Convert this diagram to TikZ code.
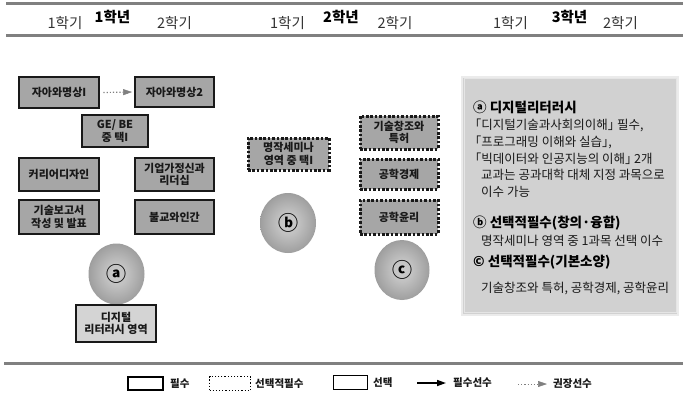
\documentclass[tikz,border=0pt]{standalone}
\usepackage{fontspec}
\setmainfont{Noto Sans CJK KR}
\newfontfamily\krhalt[RawFeature=+halt]{Noto Sans CJK KR}
\usetikzlibrary{arrows.meta,shapes.geometric}
\pgfdeclareradialshading{ball}{\pgfpoint{0bp}{0bp}}{color(0bp)=(black!20); color(9bp)=(black!24); color(24bp)=(black!37); color(33bp)=(black!49); color(50bp)=(black!54)}
\begin{document}
\begin{tikzpicture}[x=1bp,y=-1bp,
  hline/.style={draw=black!50, line width=3bp},
  semlabel/.style={text=black!80, font=\fontsize{14.5bp}{16bp}\selectfont, inner sep=0},
  yearlabel/.style={text=black, font=\fontsize{14.5bp}{16bp}\selectfont\bfseries, inner sep=0},
  basebox/.style={fill=black!35, align=center, inner sep=0, text=black!90,
    font=\fontsize{11bp}{12.5bp}\selectfont\bfseries},
  reqbox/.style={basebox, draw=black!90, line width=2.8bp},
  optbox/.style={basebox, draw=black!90, line width=3bp, dash pattern=on 2.6bp off 1.8bp},
  ball/.style={shading=ball, inner sep=0, font=\fontsize{20bp}{20bp}\selectfont\bfseries},
  paneltext/.style={anchor=west, inner sep=0, text=black!90, font=\fontsize{12.5bp}{14bp}\selectfont},
  bracktext/.style={paneltext, font=\krhalt\fontsize{12.5bp}{14bp}\selectfont},
  panelhead/.style={anchor=west, inner sep=0, text=black, font=\fontsize{13.5bp}{15bp}\selectfont\bfseries},
  legtext/.style={anchor=west, inner sep=0, text=black!90, font=\fontsize{10.5bp}{12bp}\selectfont\bfseries},
  recarrow/.style={draw=black!50, line width=1.2bp, dotted, -{Triangle[length=9bp,width=6bp,color=black!50,fill=black!50,line width=0.5bp]}},
  reqarrow/.style={draw=black, line width=1.6bp, -{Triangle[length=9bp,width=6bp]}}
]
\useasboundingbox (0,0) rectangle (683,393);

% header and footer lines
\draw[hline] (6,3) -- (683,3);
\draw[hline] (6,35) -- (683,35);
\draw[hline] (4,363) -- (683,363);

% semester labels
\node[semlabel]  (s11) at (65,23)    {1학기};
\node[yearlabel] (y1)  at (112.5,17) {1학년};
\node[semlabel]  (s12) at (174.5,23) {2학기};
\node[semlabel]  (s21) at (287.5,23) {1학기};
\node[yearlabel] (y2)  at (341,17)   {2학년};
\node[semlabel]  (s22) at (395,23)   {2학기};
\node[semlabel]  (s31) at (510.5,23) {1학기};
\node[yearlabel] (y3)  at (569.5,17) {3학년};
\node[semlabel]  (s32) at (620.5,23) {2학기};

% year 1 boxes
\node[reqbox, minimum width=80bp, minimum height=31bp] (m1)  at (59,92.5)  {자아와명상I};
\node[reqbox, minimum width=79bp, minimum height=30bp] (m2)  at (174.5,92) {자아와명상2};
\node[reqbox, minimum width=66bp, minimum height=32bp] (ge)  at (115,131)  {GE/ BE\\중 택I};
\node[reqbox, minimum width=80bp, minimum height=33bp] (cd)  at (59,174.5) {커리어디자인};
\node[reqbox, minimum width=79bp, minimum height=33bp] (ent) at (174.5,174.5) {기업가정신과\\리더십};
\node[reqbox, minimum width=80bp, minimum height=34bp] (tr)  at (59,217)   {기술보고서\\작성 및 발표};
\node[reqbox, minimum width=79bp, minimum height=34bp] (bud) at (174.5,217) {불교와인간};

\draw[recarrow] ([xshift=3bp]m1.east) -- ([xshift=-1.5bp]m2.west);

% circle a and digital literacy box
\node[ball, ellipse, minimum width=56bp, minimum height=61bp] (ca) at (116.5,274) {ⓐ};
\node[reqbox, fill=black!17, minimum width=80bp, minimum height=37bp] (dl) at (116,323.5) {디지털\\리터러시 영역};

% year 2
\node[optbox, minimum width=81bp, minimum height=32bp] (ms) at (288.5,154) {명작세미나\\영역 중 택I};
\node[ball, ellipse, minimum width=56bp, minimum height=60bp] (cb) at (288,223) {ⓑ};

\node[optbox, minimum width=78bp, minimum height=33bp] (pat) at (399,132.5) {기술창조와\\특허};
\node[optbox, minimum width=78bp, minimum height=30bp] (eco) at (399,174)   {공학경제};
\node[optbox, minimum width=78bp, minimum height=34bp] (eth) at (399,217)   {공학윤리};
\node[ball, ellipse, minimum width=55bp, minimum height=60bp] (cc) at (402,270) {ⓒ};

% right panel
\node[draw=black!8, line width=2bp, fill=black!18, minimum width=216bp, minimum height=238bp, inner sep=0] (panel) at (570,195.5) {};
\draw[black!10, line width=0.6bp] ([xshift=3bp,yshift=-3bp]panel.north west) rectangle ([xshift=-3bp,yshift=3bp]panel.south east);

\node[panelhead] (pa)  at (473,107) {ⓐ 디지털리터러시};
\node[bracktext] (pa1) at (475,125) {「디지털기술과사회의이해」 필수,};
\node[bracktext] (pa2) at (475,142) {「프로그래밍 이해와 실습」,};
\node[bracktext] (pa3) at (475,158.5) {「빅데이터와 인공지능의 이해」 2개};
\node[paneltext] (pa4) at (481,175) {교과는 공과대학 대체 지정 과목으로};
\node[paneltext] (pa5) at (481,192) {이수 가능};
\node[panelhead] (pb)  at (473,223) {ⓑ 선택적필수(창의·융합)};
\node[paneltext] (pb1) at (481,241) {명작세미나 영역 중 1과목 선택 이수};
\node[panelhead] (pc)  at (473,262) {© 선택적필수(기본소양)};
\node[paneltext] (pc1) at (481,288) {기술창조와 특허, 공학경제, 공학윤리};

% legend
\node[draw=black, line width=2.6bp, minimum width=35bp, minimum height=13bp, inner sep=0] (lg1) at (145.5,383.5) {};
\node[legtext] (lt1) at (170,383.5) {필수};
\node[draw=black, line width=1.2bp, dotted, minimum width=41bp, minimum height=14bp, inner sep=0] (lg2) at (230,383.5) {};
\node[legtext] (lt2) at (255,383.5) {선택적필수};
\node[draw=black, line width=1bp, minimum width=34bp, minimum height=14bp, inner sep=0] (lg3) at (350.5,382.5) {};
\node[legtext] (lt3) at (373,382.5) {선택};
\coordinate (a1s) at (417,383);
\coordinate (a1e) at (446,383);
\draw[reqarrow] (a1s) -- (a1e);
\node[legtext] (lt4) at (453,383) {필수선수};
\coordinate (a2s) at (518,384);
\coordinate (a2e) at (547,384);
\draw[recarrow, line width=1bp] (a2s) -- (a2e);
\node[legtext] (lt5) at (553,384) {권장선수};
\end{tikzpicture}
\end{document}
